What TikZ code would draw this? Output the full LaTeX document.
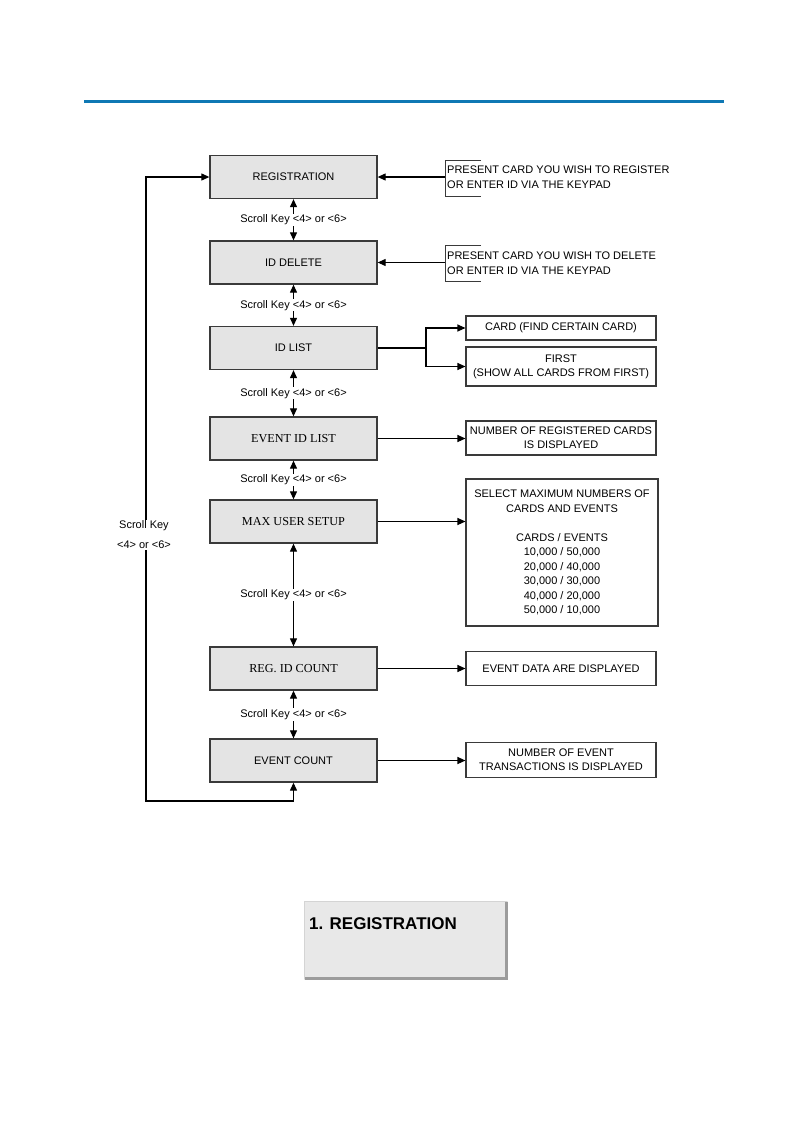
\documentclass[tikz,border=0pt]{standalone}
\usepackage{fontspec}
\setmainfont{Liberation Sans}
\newfontfamily\arialf{Liberation Sans}
\newfontfamily\tnrf{Liberation Serif}
\usetikzlibrary{arrows.meta}
\definecolor{topblue}{HTML}{0E78B4}
\definecolor{boxgray}{HTML}{E4E4E4}
\definecolor{edgegray}{HTML}{3A3A3A}
\definecolor{bevelfill}{HTML}{E8E8E8}
\definecolor{beveldark}{HTML}{9C9C9C}
\definecolor{bevellight}{HTML}{D4D4D4}
\begin{document}
\begin{tikzpicture}[x=1pt,y=-1pt,
  mainbox/.style={draw=edgegray, line width=1.3pt, fill=boxgray, minimum width=167pt, minimum height=43pt, inner sep=0pt, font=\arialf\fontsize{11}{13}\selectfont},
  serifbox/.style={mainbox, font=\tnrf\fontsize{12.2}{14}\selectfont},
  infobox/.style={draw=edgegray, line width=1.1pt, fill=white, minimum width=190pt, inner sep=0pt, align=center, font=\arialf\fontsize{11}{14}\selectfont},
  plaintext/.style={inner sep=0pt, align=left, font=\arialf\fontsize{11}{14.5}\selectfont},
  scrolllabel/.style={fill=white, inner sep=1pt, font=\arialf\fontsize{11}{13}\selectfont},
  conn/.style={line width=1.1pt, draw=black, -{Triangle[length=8pt,width=7pt]}},
  dconn/.style={line width=1.1pt, draw=black, {Triangle[length=8pt,width=7pt]}-{Triangle[length=8pt,width=7pt]}},
  bline/.style={line width=1.1pt, draw=black},
  bracketline/.style={line width=0.9pt, draw=edgegray}
]
\useasboundingbox (0,0) rectangle (811,1135);
% top rule
\draw[topblue, line width=3pt] (84,101) -- (724,101);

% main boxes
\node[mainbox] (reg) at (293.5,177) {REGISTRATION};
\node[mainbox] (del) at (293.5,262.5) {ID DELETE};
\node[mainbox] (idl) at (293.5,348) {ID LIST};
\node[serifbox] (eil) at (293.5,438.5) {EVENT ID LIST};
\node[serifbox] (mus) at (293.5,521.5) {MAX USER SETUP};
\node[serifbox] (ric) at (293.5,668.5) {REG. ID COUNT};
\node[mainbox] (ec) at (293.5,760.5) {EVENT COUNT};

% scroll key arrows
\draw[dconn] (reg.south) -- (del.north) node[midway, scrolllabel] {Scroll Key <4> or <6>};
\draw[dconn] (del.south) -- (idl.north) node[midway, scrolllabel] {Scroll Key <4> or <6>};
\draw[dconn] (idl.south) -- (eil.north) node[midway, scrolllabel] {Scroll Key <4> or <6>};
\draw[dconn] (eil.south) -- (mus.north) node[midway, scrolllabel] {Scroll Key <4> or <6>};
\draw[dconn] (mus.south) -- (ric.north) node[midway, scrolllabel] {Scroll Key <4> or <6>};
\draw[dconn] (ric.south) -- (ec.north) node[midway, scrolllabel] {Scroll Key <4> or <6>};

% present card brackets
\node[plaintext, anchor=west] (prreg) at (447,177) {PRESENT CARD YOU WISH TO REGISTER\\OR ENTER ID VIA THE KEYPAD};
\draw[bracketline] (481,160) -- (445,160) -- (445,196) -- (481,196);
\coordinate (brreg) at (445,177);
\draw[conn] (brreg) -- (brreg -| reg.east);

\node[plaintext, anchor=west] (prdel) at (447,263) {PRESENT CARD YOU WISH TO DELETE\\OR ENTER ID VIA THE KEYPAD};
\draw[bracketline] (481,245) -- (445,245) -- (445,281) -- (481,281);
\coordinate (brdel) at (445,262.5);
\draw[conn] (brdel) -- (brdel -| del.east);

% ID list branches
\node[infobox, minimum height=24pt] (card) at (561,328) {CARD (FIND CERTAIN CARD)};
\node[infobox, minimum height=39pt] (first) at (561,366.5) {FIRST\\(SHOW ALL CARDS FROM FIRST)};
\coordinate (split) at (426,348);
\draw[bline] (idl.east) -- (split);
\draw[conn] (split) |- (card.west);
\draw[conn] (split) |- (first.west);

% other info boxes
\node[infobox, minimum height=34pt] (regc) at (561,438) {NUMBER OF REGISTERED CARDS\\IS DISPLAYED};
\draw[conn] (eil.east) -- (eil.east -| regc.west);

\node[infobox, minimum width=192pt, minimum height=147pt, font=\arialf\fontsize{11}{14.5}\selectfont] (sel) at (562,552.5) {SELECT MAXIMUM NUMBERS OF\\CARDS AND EVENTS\\[14.5pt]CARDS / EVENTS\\10,000 / 50,000\\20,000 / 40,000\\30,000 / 30,000\\40,000 / 20,000\\50,000 / 10,000};
\draw[conn] (mus.east) -- (mus.east -| sel.west);

\node[infobox, minimum height=34pt] (evd) at (561,668.5) {EVENT DATA ARE DISPLAYED};
\draw[conn] (ric.east) -- (ric.east -| evd.west);

\node[infobox, minimum height=35pt] (etr) at (561,760) {NUMBER OF EVENT\\TRANSACTIONS IS DISPLAYED};
\draw[conn] (ec.east) -- (ec.east -| etr.west);

% loop back
\coordinate (lb) at (293.5,801);
\coordinate (lt) at (146,801);
\draw[dconn] (ec.south) -- (lb) -- (lt) |- (reg.west);
\node[scrolllabel, align=center, font=\arialf\fontsize{11}{20}\selectfont] (loopl) at (144,535) {Scroll Key\\<4> or <6>};

% bottom display box
\fill[bevelfill] (304,901) rectangle (508,980);
\draw[bevellight, line width=1.2pt] (304.6,979) -- (304.6,901.6) -- (507,901.6);
\draw[beveldark, line width=3pt] (506.5,902) -- (506.5,978.5) -- (305,978.5);
\node[anchor=west, inner sep=0pt, font=\arialf\bfseries\fontsize{17}{20}\selectfont] (disp) at (309,923.5) {1. REGISTRATION};
\end{tikzpicture}
\end{document}
